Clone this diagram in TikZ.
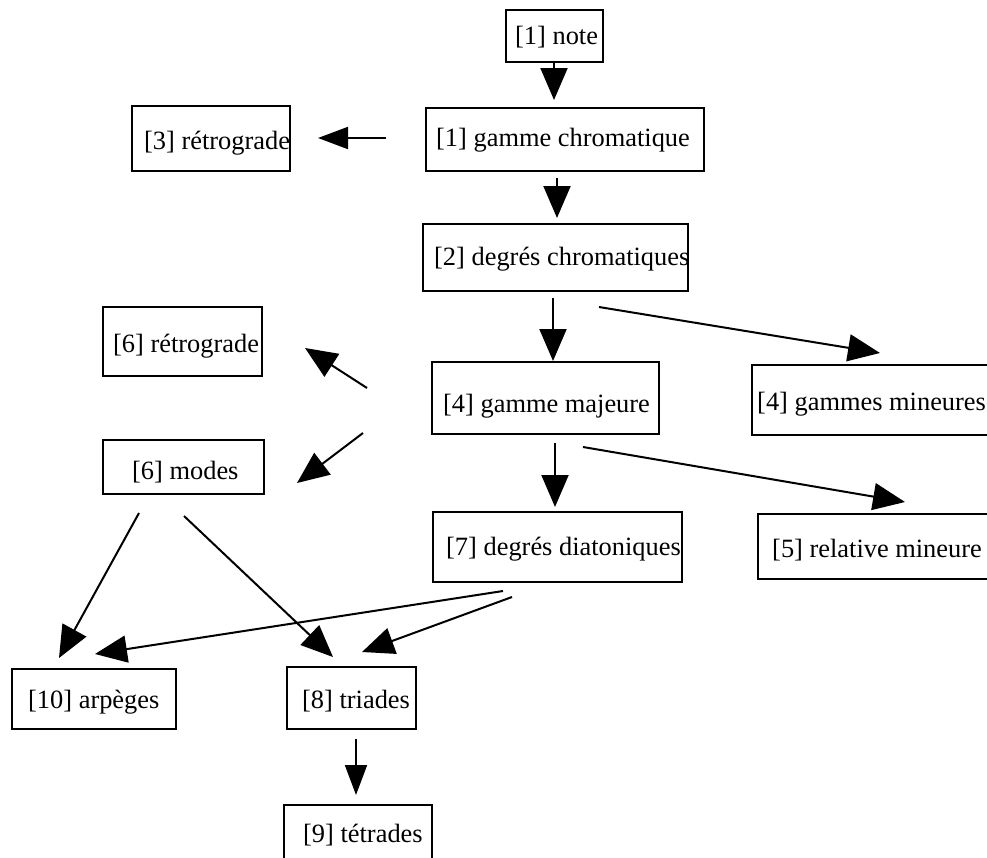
\documentclass[tikz,border=0pt]{standalone}
\usepackage{fontspec}
\setmainfont{Liberation Serif}
\usetikzlibrary{arrows.meta}
\tikzset{
  box/.style={draw, line width=2pt, inner sep=0pt, rectangle},
  lbl/.style={anchor=base west, inner sep=0pt, font=\fontsize{26.4}{30}\selectfont},
  conn/.style={line width=2pt, -{Triangle[length=32pt,width=27pt]}},
  connsm/.style={line width=2pt, -{Triangle[length=30pt,width=22pt]}},
}
\begin{document}
\begin{tikzpicture}[x=1pt,y=-1pt]
\clip (0,0) rectangle (987,857);
\fill[white] (0,0) rectangle (987,857);
% boxes: centre, width, height
\node[box, minimum width=97pt,  minimum height=52pt] (note) at (554.5,36) {};
\node[box, minimum width=278pt, minimum height=63pt] (gc)   at (565,139.5) {};
\node[box, minimum width=158pt, minimum height=65pt] (r3)   at (211,138.5) {};
\node[box, minimum width=265pt, minimum height=67pt] (dc)   at (555.5,257.5) {};
\node[box, minimum width=159pt, minimum height=69pt] (r6)   at (182.5,341.5) {};
\node[box, minimum width=161pt, minimum height=54pt] (modes) at (183.5,467) {};
\node[box, minimum width=227pt, minimum height=72pt] (gmaj) at (545.5,398) {};
\node[box, minimum width=260pt, minimum height=70pt] (gmin) at (882,400) {};
\node[box, minimum width=249pt, minimum height=70pt] (dd)   at (557.5,547) {};
\node[box, minimum width=260pt, minimum height=65pt] (rm)   at (888,546.5) {};
\node[box, minimum width=164pt, minimum height=60pt] (arp)  at (94,699) {};
\node[box, minimum width=129pt, minimum height=62pt] (tri)  at (351.5,698) {};
\node[box, minimum width=148pt, minimum height=70pt] (tet)  at (358,840) {};
% texts
\node[lbl] (t-note)  at (515,44)  {[1] note};
\node[lbl] (t-gc)    at (436,146) {[1] gamme chromatique};
\node[lbl] (t-r3)    at (144,149) {[3] rétrograde};
\node[lbl] (t-dc)    at (434,265) {[2] degrés chromatiques};
\node[lbl] (t-r6)    at (113,352) {[6] rétrograde};
\node[lbl] (t-modes) at (132,479) {[6] modes};
\node[lbl] (t-gmaj)  at (443,412) {[4] gamme majeure};
\node[lbl] (t-gmin)  at (757,410) {[4] gammes mineures};
\node[lbl] (t-dd)    at (446,555) {[7] degrés diatoniques};
\node[lbl] (t-rm)    at (772,557) {[5] relative mineure};
\node[lbl] (t-arp)   at (28,708)  {[10] arpèges};
\node[lbl] (t-tri)   at (302,708) {[8] triades};
\node[lbl] (t-tet)   at (303,842) {[9] tétrades};
% connector end points (edges float between the boxes)
\coordinate (a1s) at (554,62);   \coordinate (a1e) at (554,100);
\coordinate (a2s) at (386,138);  \coordinate (a2e) at (318,138);
\coordinate (a3s) at (557,178);  \coordinate (a3e) at (557,218);
\coordinate (a4s) at (553,298);  \coordinate (a4e) at (553,361);
\coordinate (a5s) at (599,307);  \coordinate (a5e) at (880,353);
\coordinate (a6s) at (367,388);  \coordinate (a6e) at (305,348);
\coordinate (a7s) at (363,433);  \coordinate (a7e) at (297,483);
\coordinate (a8s) at (555,443);  \coordinate (a8e) at (555,507);
\coordinate (a9s) at (583,447);  \coordinate (a9e) at (905,502);
\coordinate (a10s) at (139,513); \coordinate (a10e) at (59,658);
\coordinate (a11s) at (184,516); \coordinate (a11e) at (333,657);
\coordinate (a12s) at (503,591); \coordinate (a12e) at (95,654);
\coordinate (a13s) at (512,597); \coordinate (a13e) at (362,652);
\coordinate (a14s) at (356,739); \coordinate (a14e) at (356,795);
\draw[conn]   (a1s) -- (a1e);
\draw[connsm] (a2s) -- (a2e);
\draw[conn]   (a3s) -- (a3e);
\draw[conn]   (a4s) -- (a4e);
\draw[conn]   (a5s) -- (a5e);
\draw[conn]   (a6s) -- (a6e);
\draw[conn]   (a7s) -- (a7e);
\draw[conn]   (a8s) -- (a8e);
\draw[conn]   (a9s) -- (a9e);
\draw[conn]   (a10s) -- (a10e);
\draw[conn]   (a11s) -- (a11e);
\draw[conn]   (a12s) -- (a12e);
\draw[conn]   (a13s) -- (a13e);
\draw[connsm] (a14s) -- (a14e);
\end{tikzpicture}
\end{document}
